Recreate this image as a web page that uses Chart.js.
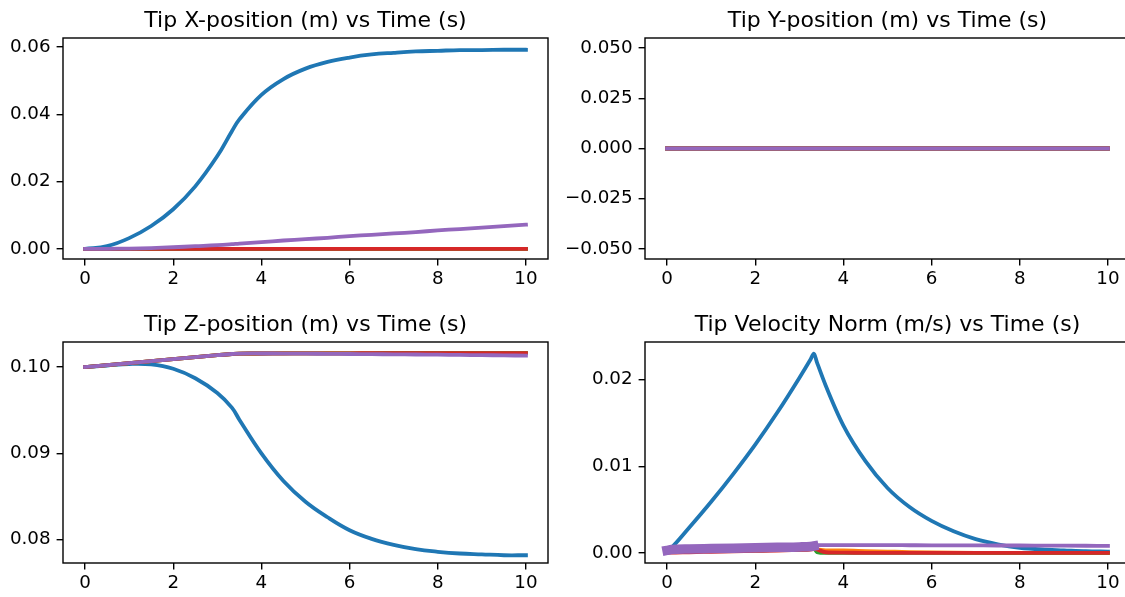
<!DOCTYPE html>
<html>
<head>
<meta charset="utf-8">
<script src="https://cdn.jsdelivr.net/npm/chart.js@4.4.1/dist/chart.umd.min.js"></script>
<style>
  html, body { margin: 0; padding: 0; background: #fff; overflow: hidden; width: 1125px; height: 597px; }
  canvas { position: absolute; }
</style>
</head>
<body>
<canvas id="cx" width="550" height="293" style="left:0px;top:0px"></canvas>
<canvas id="cy" width="572" height="293" style="left:560px;top:0px"></canvas>
<canvas id="cz" width="550" height="293" style="left:0px;top:304px"></canvas>
<canvas id="cv" width="572" height="293" style="left:560px;top:304px"></canvas>
<script>
// time samples (s)
const time = [0, 0.5, 1, 1.5, 2, 2.5, 3, 3.33, 3.5, 4, 4.5, 5, 5.5, 6, 6.5, 7, 7.5, 8, 8.5, 9, 9.5, 10];
const timeV = [0, 0.1, 0.5, 1, 1.5, 2, 2.5, 3, 3.25, 3.33, 3.4, 3.6, 4, 4.5, 5, 5.5, 6, 6.5, 7, 7.5, 8, 8.5, 9, 9.5, 10];

// tip X position (m)
const xBlue   = [0, 0.0008, 0.0032, 0.0068, 0.0118, 0.0186, 0.0276, 0.0350, 0.0385, 0.0458, 0.0505, 0.0536, 0.0556, 0.0569, 0.0578, 0.0583, 0.0587, 0.0589, 0.0591, 0.0591, 0.0592, 0.0592];
const xOrange = [0, 0, 0, 0, 0, 0, 0, 0, 0, 0, 0, 0, 0, 0, 0, 0, 0, 0, 0, 0, 0, 0];
const xGreen  = [0, 0, 0, 0, 0, 0, 0, 0, 0, 0, 0, 0, 0, 0, 0, 0, 0, 0, 0, 0, 0, 0];
const xRed    = [0, 0, 0, 0, 0, 0, 0, 0, 0, 0, 0, 0, 0, 0, 0, 0, 0, 0, 0, 0, 0, 0];
const xPurple = [0, 0.00003, 0.0001, 0.00025, 0.0005, 0.0008, 0.0011, 0.0014, 0.0016, 0.0020, 0.0025, 0.0029, 0.0033, 0.0038, 0.0042, 0.0046, 0.0050, 0.0055, 0.0059, 0.0063, 0.0068, 0.0072];

// tip Y position (m) - every run stays at zero
const yAll = [0, 0, 0, 0, 0, 0, 0, 0, 0, 0, 0, 0, 0, 0, 0, 0, 0, 0, 0, 0, 0, 0];

// tip Z position (m)
const zBlue   = [0.1000, 0.10018, 0.10035, 0.10030, 0.0998, 0.0987, 0.0970, 0.0953, 0.0939, 0.0900, 0.0868, 0.0844, 0.0826, 0.0811, 0.0801, 0.0794, 0.0789, 0.0786, 0.0784, 0.0783, 0.0782, 0.0782];
const zOrange = [0.1000, 0.10023, 0.10046, 0.10069, 0.10092, 0.10114, 0.10137, 0.10151, 0.10156, 0.10157, 0.10157, 0.10158, 0.10158, 0.10159, 0.10159, 0.10159, 0.10160, 0.10160, 0.10160, 0.10161, 0.10161, 0.10161];
const zGreen  = [0.1000, 0.10023, 0.10046, 0.10069, 0.10092, 0.10114, 0.10137, 0.10151, 0.10156, 0.10157, 0.10158, 0.10158, 0.10158, 0.10159, 0.10159, 0.10160, 0.10160, 0.10160, 0.10161, 0.10161, 0.10161, 0.10162];
const zRed    = [0.1000, 0.10023, 0.10046, 0.10069, 0.10092, 0.10114, 0.10137, 0.10151, 0.10156, 0.10157, 0.10158, 0.10158, 0.10159, 0.10159, 0.10160, 0.10160, 0.10160, 0.10161, 0.10161, 0.10161, 0.10162, 0.10162];
const zPurple = [0.1000, 0.10023, 0.10046, 0.10069, 0.10092, 0.10114, 0.10137, 0.10151, 0.10156, 0.10157, 0.10156, 0.10155, 0.10153, 0.10151, 0.10149, 0.10147, 0.10145, 0.10143, 0.10140, 0.10138, 0.10135, 0.10132];

// tip velocity norm (m/s)
const vBlue   = [0.0002, 0.0006, 0.0029, 0.0059, 0.0091, 0.0125, 0.0162, 0.0202, 0.0223, 0.0230, 0.0220, 0.0193, 0.0147, 0.0106, 0.0075, 0.0053, 0.0037, 0.0025, 0.0016, 0.0010, 0.0006, 0.0004, 0.0003, 0.0002, 0.00015];
const vOrange = [0.0001, 0.0002, 0.0002, 0.00025, 0.0003, 0.0003, 0.00035, 0.0004, 0.00045, 0.0005, 0.0004, 0.0003, 0.00028, 0.00022, 0.00016, 0.0001, 0.00006, 0.00003, 0.00001, 0, 0, 0, 0, 0, 0];
const vGreen  = [0.0001, 0.0002, 0.0002, 0.00025, 0.0003, 0.0003, 0.00035, 0.0004, 0.00045, 0.0005, 0.0001, 0, 0, 0, 0, 0, 0, 0, 0, 0, 0, 0, 0, 0, 0];
const vRed    = [0.0001, 0.0001, 0.00015, 0.0002, 0.00025, 0.0003, 0.00035, 0.00042, 0.00046, 0.0005, 0.0004, 0.00008, 0.00003, 0.00001, 0, 0, 0, 0, 0, 0, 0, 0, 0, 0, 0];
const vPurple = [0.0003, 0.0004, 0.00045, 0.0005, 0.00055, 0.0006, 0.00065, 0.0007, 0.00075, 0.0008, 0.0009, 0.0009, 0.0009, 0.0009, 0.0009, 0.00089, 0.00088, 0.00088, 0.00087, 0.00086, 0.00086, 0.00085, 0.00084, 0.00083, 0.00082];

// ticks
const xTicks = [0, 2, 4, 6, 8, 10];
const xLabels = ['0', '2', '4', '6', '8', '10'];
const posXTicks = [0, 0.02, 0.04, 0.06];
const posXLabels = ['0.00', '0.02', '0.04', '0.06'];
const posYTicks = [-0.05, -0.025, 0, 0.025, 0.05];
const posYLabels = ['\u22120.050', '\u22120.025', '0.000', '0.025', '0.050'];
const posZTicks = [0.08, 0.09, 0.10];
const posZLabels = ['0.08', '0.09', '0.10'];
const velTicks = [0, 0.01, 0.02];
const velLabels = ['0.00', '0.01', '0.02'];

const colors = ['#1f77b4', '#ff7f0e', '#2ca02c', '#d62728', '#9467bd'];

Chart.defaults.font.family = "'DejaVu Sans', sans-serif";
Chart.defaults.color = '#000';

// box around the plot area, drawn over the lines like matplotlib spines
const frame = {
  id: 'frame',
  afterDatasetsDraw(chart) {
    const a = chart.chartArea;
    const c = chart.ctx;
    c.save();
    c.strokeStyle = '#000';
    c.lineWidth = 1.4;
    c.strokeRect(a.left, a.top, a.right - a.left, a.bottom - a.top);
    c.restore();
  }
};

function lines(t, series, smooth) {
  return series.map((vals, i) => ({
    data: vals.map((v, k) => ({ x: t[k], y: v })),
    borderColor: colors[i],
    backgroundColor: colors[i],
    borderWidth: 3.8,
    pointRadius: 0,
    tension: 0.4,
    cubicInterpolationMode: smooth ? 'default' : 'monotone',
    borderCapStyle: 'square',
    borderJoinStyle: 'round',
    fill: false,
    order: series.length - 1 - i
  }));
}

function makeChart(id, title, datasets, yMin, yMax, yTicks, yLabels, axisW) {
  return new Chart(document.getElementById(id), {
    type: 'line',
    data: { datasets: datasets },
    options: {
      responsive: false,
      animation: false,
      layout: { padding: { right: 2 } },
      plugins: {
        legend: { display: false },
        tooltip: { enabled: false },
        title: {
          display: true,
          text: title,
          fullSize: false,
          color: '#000',
          font: { size: 22, weight: 'normal' },
          padding: { top: 8.5, bottom: 3.1 }
        }
      },
      scales: {
        x: {
          type: 'linear',
          min: -0.5,
          max: 10.5,
          afterBuildTicks: s => { s.ticks = xTicks.map(v => ({ value: v })); },
          afterFit: s => { s.height = 34; },
          ticks: { callback: (v, i) => xLabels[i], font: { size: 18.3 }, padding: 3, maxRotation: 0, autoSkip: false },
          grid: { drawOnChartArea: false, drawTicks: true, tickLength: 6.4, color: '#000', lineWidth: 1.4 },
          border: { display: false }
        },
        y: {
          type: 'linear',
          min: yMin,
          max: yMax,
          afterBuildTicks: s => { s.ticks = yTicks.map(v => ({ value: v })); },
          afterFit: s => { s.width = axisW; },
          ticks: { callback: (v, i) => yLabels[i], font: { size: 18.3 }, padding: 6, autoSkip: false },
          grid: { drawOnChartArea: false, drawTicks: true, tickLength: 6.4, color: '#000', lineWidth: 1.4 },
          border: { display: false }
        }
      }
    },
    plugins: [frame]
  });
}

makeChart('cx', 'Tip X-position (m) vs Time (s)',
  lines(time, [xBlue, xOrange, xGreen, xRed, xPurple], true),
  -0.003, 0.0627, posXTicks, posXLabels, 63);

makeChart('cy', 'Tip Y-position (m) vs Time (s)',
  lines(time, [yAll, yAll, yAll, yAll, yAll], true),
  -0.055, 0.055, posYTicks, posYLabels, 85);

makeChart('cz', 'Tip Z-position (m) vs Time (s)',
  lines(time, [zBlue, zOrange, zGreen, zRed, zPurple], true),
  0.0773, 0.1029, posZTicks, posZLabels, 63);

// the noisy start of the purple run shows as a thick band up to the switch at 3.33 s
const velSets = lines(timeV, [vBlue, vOrange, vGreen, vRed, vPurple], false);
velSets[4].segment = { borderWidth: ctx => (ctx.p1.parsed.x <= 3.33 ? 9.5 : 3.8) };
velSets[3].segment = { borderWidth: ctx => (ctx.p1.parsed.x <= 3.33 ? 5 : 3.8) };

makeChart('cv', 'Tip Velocity Norm (m/s) vs Time (s)',
  velSets,
  -0.00116, 0.02434, velTicks, velLabels, 85);
</script>
</body>
</html>
